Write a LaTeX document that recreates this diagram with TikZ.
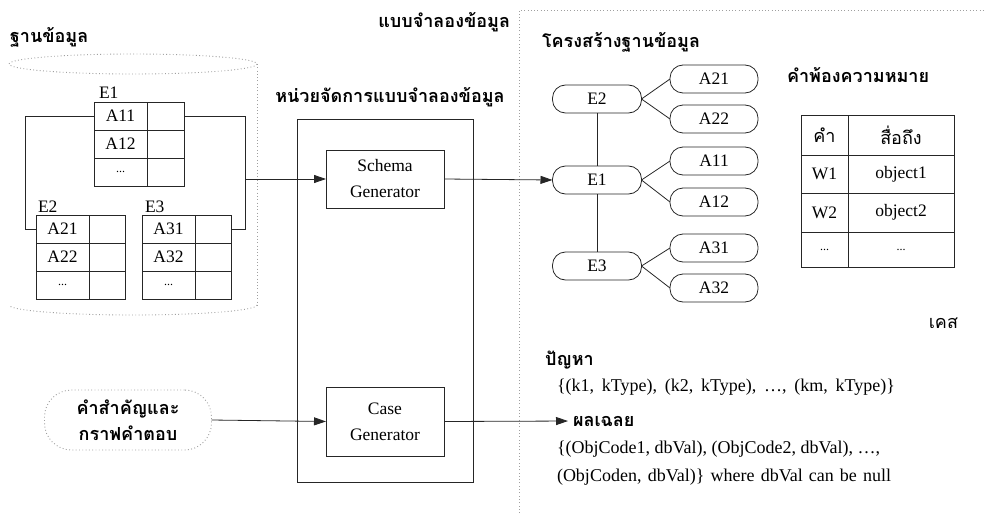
\documentclass[tikz,border=0pt]{standalone}
\usepackage{fontspec}
\setmainfont{Liberation Serif}
\newfontfamily\thai[Script=Thai]{Loma}
\usetikzlibrary{arrows.meta}
\begin{document}
\begin{tikzpicture}[x=1pt,y=-1pt,
  every node/.style={inner sep=0pt, outer sep=0pt},
  lat/.style={font=\fontsize{17.5}{26}\selectfont},
  txt/.style={font=\fontsize{18}{26}\selectfont},
  sml/.style={font=\fontsize{12}{14}\selectfont},
  th/.style={font=\fontsize{18}{26}\thai\selectfont},
  thb/.style={font=\fontsize{18}{26}\thai\bfseries\selectfont},
  ln/.style={line width=0.8pt, draw=black!85},
  dots/.style={draw=gray!75, line width=0.9pt, dash pattern=on 0.9pt off 2.4pt},
  cell/.style={draw=black!85, line width=0.8pt, minimum height=28pt, lat},
  wide/.style={cell, minimum width=53pt},
  narrow/.style={cell, minimum width=36pt},
  stad/.style={ln, draw, rounded corners=13pt, minimum width=89pt, minimum height=28pt, lat},
  gen/.style={ln, draw, minimum width=118pt, align=center, lat},
  tcell/.style={draw=black!85, line width=0.9pt},
  arr/.style={ln, -{Triangle[length=12pt,width=8pt]}},
]
\useasboundingbox (0,0) rectangle (984,516);

% ---------- database (dotted cylinder) ----------
\node[thb, anchor=west] (dbtitle) at (10,37) {ฐานข้อมูล};
\draw[dots] (133,64) ellipse[x radius=124, y radius=10];
\draw[dots] (257,64) -- (257,305);
\draw[dots] (257,305) arc[start angle=0, end angle=180, x radius=124, y radius=10];

% table E1
\node[lat, anchor=base west] (e1lab) at (99,99) {E1};
\node[wide]   (e1a) at (120.5,116) {A11};
\node[narrow, minimum width=37pt] (e1av) at (165.5,116) {};
\node[wide]   (e1b) at (120.5,144) {A12};
\node[narrow, minimum width=37pt] (e1bv) at (165.5,144) {};
\node[wide, sml] (e1c) at (120.5,172) {...};
\node[narrow, minimum width=37pt] (e1cv) at (165.5,172) {};

% table E2
\node[lat, anchor=base west] (e2lab) at (38,212) {E2};
\node[wide]   (e2a) at (62.5,229) {A21};
\node[narrow] (e2av) at (107,229) {};
\node[wide]   (e2b) at (62.5,257) {A22};
\node[narrow] (e2bv) at (107,257) {};
\node[wide, sml] (e2c) at (62.5,285) {...};
\node[narrow] (e2cv) at (107,285) {};

% table E3
\node[lat, anchor=base west] (e3lab) at (145,212) {E3};
\node[wide]   (e3a) at (168.5,229) {A31};
\node[narrow] (e3av) at (213,229) {};
\node[wide]   (e3b) at (168.5,257) {A32};
\node[narrow] (e3bv) at (213,257) {};
\node[wide, sml] (e3c) at (168.5,285) {...};
\node[narrow] (e3cv) at (213,285) {};

% links between the tables
\draw[ln] (e1a.west) -- ++(-69,0) |- (e2a.west);
\draw[ln] (e1av.east) -- ++(61,0) |- (e3av.east);
\coordinate (dbout) at (245,179);

% ---------- model manager ----------
\node[thb, anchor=east] (modeltitle) at (510,22) {แบบจำลองข้อมูล};
\node[thb] (mgrtitle) at (390,97) {หน่วยจัดการแบบจำลองข้อมูล};
\node[ln, draw, minimum width=176pt, minimum height=363pt] (mgr) at (385,300.5) {};
\node[gen, minimum height=58pt] (schema) at (385,179) {Schema\\Generator};
\node[gen, minimum height=69pt] (case) at (385,421.5) {Case\\Generator};

% keywords and answer graph
\node[dots, rounded corners=27pt, minimum width=167pt, minimum height=60pt,
      thb, align=center] (kw) at (128,420) {คำสำคัญและ\\กราฟคำตอบ};

% ---------- model (dotted frame) ----------
\draw[dots] (519,513) -- (519,10) -- (984,10);
\node[thb, anchor=west] (structtitle) at (542,42) {โครงสร้างฐานข้อมูล};

\node[stad] (e2n) at (597,99) {E2};
\node[stad] (e1n) at (597,180) {E1};
\node[stad] (e3n) at (597,266) {E3};
\node[stad, minimum width=88pt] (a21) at (714,79) {A21};
\node[stad, minimum width=88pt] (a22) at (714,119) {A22};
\node[stad, minimum width=88pt] (a11) at (714,161) {A11};
\node[stad, minimum width=88pt] (a12) at (714,202) {A12};
\node[stad, minimum width=88pt] (a31) at (714,248) {A31};
\node[stad, minimum width=88pt] (a32) at (714,288) {A32};

\draw[ln] (e2n.south) -- (e1n.north);
\draw[ln] (e1n.south) -- (e3n.north);
\foreach \e/\a in {e2n/a21,e2n/a22,e1n/a11,e1n/a12,e3n/a31,e3n/a32}
  \draw[ln] (\e.east) -- (\a.west);

% synonym table
\node[thb, anchor=west] (syntitle) at (787,75) {คำพ้องความหมาย};
\node[tcell, minimum width=47pt,  minimum height=40pt, th] (h1) at (824.5,135) {คำ};
\node[tcell, minimum width=106pt, minimum height=40pt, th] (h2) at (901,135) {สื่อถึง};
\node[tcell, minimum width=47pt,  minimum height=38pt, lat] (w1) at (824.5,174) {W1};
\node[tcell, minimum width=106pt, minimum height=38pt, lat] (o1) at (901,174) {object1};
\node[tcell, minimum width=47pt,  minimum height=39pt, lat] (w2) at (824.5,212.5) {W2};
\node[tcell, minimum width=106pt, minimum height=39pt, lat] (o2) at (901,212.5) {object2};
\node[tcell, minimum width=47pt,  minimum height=35pt, sml] (w3) at (824.5,249.5) {...};
\node[tcell, minimum width=106pt, minimum height=35pt, sml] (o3) at (901,249.5) {...};

% cases
\node[th, anchor=east] (casetitle) at (958,323) {เคส};
\node[thb, anchor=west] (probtitle) at (545,360) {ปัญหา};
\node[txt, anchor=west] (probset) at (557,387)
  {\makebox[338pt][s]{\{(k1, kType), (k2, kType), …, (km, kType)\}}};
\node[thb, anchor=west] (soltitle) at (573,421) {ผลเฉลย};
\node[txt, anchor=west] (sol1) at (557,449)
  {\{(ObjCode1, dbVal), (ObjCode2, dbVal), …,};
\node[txt, anchor=west] (sol2) at (557,477)
  {\makebox[334pt][s]{(ObjCoden, dbVal)\} where dbVal can be null}};

% ---------- flows ----------
\draw[arr] (dbout) -- (schema.west);
\draw[arr] (schema.east) -- (e1n.west);
\draw[arr] (kw.east) -- (case.west);
\draw[arr, shorten >=5pt] (case.east) -- (soltitle.west);
\end{tikzpicture}
\end{document}
